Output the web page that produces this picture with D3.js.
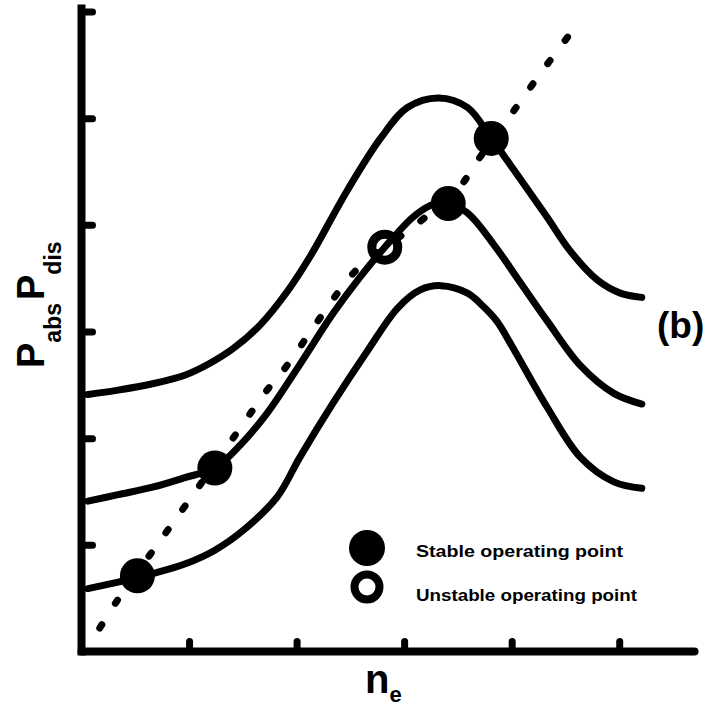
<!DOCTYPE html>
<html>
<head>
<meta charset="utf-8">
<script src="https://cdn.jsdelivr.net/npm/d3@7"></script>
<style>
  html, body { margin: 0; padding: 0; background: #fff; }
  svg { display: block; }
  text { font-family: "Liberation Sans", Arial, sans-serif; font-weight: bold; fill: #000; }
</style>
</head>
<body>
<svg id="chart" width="707" height="706"></svg>
<script>
// Absorbed power curves P_abs(n_e) for three input powers (upper, middle, lower)
const upperNe = [0.06,0.34,0.66,0.96,1.19,1.41,1.66,1.91,2.13,2.47,2.78,3.03,3.32,3.59,3.81,4.01,4.33,4.54,4.80,5.01,5.21];
const upperP  = [2.41,2.45,2.51,2.59,2.70,2.84,3.06,3.37,3.71,4.32,4.81,5.10,5.19,5.10,4.81,4.53,4.07,3.76,3.48,3.36,3.32];

const middleNe = [0.06,0.34,0.66,0.96,1.24,1.48,1.73,2.03,2.34,2.59,2.82,3.08,3.24,3.38,3.59,3.83,4.08,4.33,4.64,4.95,5.21];
const middleP  = [1.41,1.47,1.54,1.63,1.72,1.94,2.24,2.69,3.17,3.51,3.79,4.07,4.18,4.22,4.11,3.82,3.46,3.10,2.68,2.42,2.32];

const lowerNe = [0.06,0.34,0.66,0.96,1.24,1.52,1.82,2.03,2.34,2.66,2.94,3.15,3.34,3.59,3.71,3.86,4.01,4.33,4.64,4.95,5.21];
const lowerP  = [0.59,0.65,0.73,0.82,0.95,1.15,1.45,1.82,2.33,2.82,3.22,3.39,3.43,3.36,3.26,3.10,2.85,2.29,1.82,1.59,1.53];

// Dissipated power P_dis(n_e), dashed
const dischargeNe = [0.17,0.34,0.66,0.96,1.43,1.74,1.91,2.22,2.54,2.82,3.07,3.52,3.66,3.97,4.29,4.61];
const dischargeP  = [0.22,0.49,0.94,1.36,2.03,2.47,2.68,3.13,3.56,3.79,3.97,4.36,4.57,5.00,5.45,5.88];

// Operating points (intersections of P_abs and P_dis)
const stableNe = [0.52, 1.24, 3.41, 3.81];
const stableP  = [0.71, 1.72, 4.20, 4.81];
const unstableNe = [2.82];
const unstableP  = [3.79];

// Axis ticks (unlabelled) and legend entries
const neTicks = [1, 2, 3, 4, 5];
const pTicks  = [1, 2, 3, 4, 5, 6];
const legendLabels = ["Stable operating point", "Unstable operating point"];

const svg = d3.select("#chart");

const x = d3.scaleLinear().domain([0, 5.7]).range([81.5, 694.5]);
const y = d3.scaleLinear().domain([0, 6]).range([651.5, 11.5]);

const ink = "#000";

// Axes: heavy frame lines with inward-pointing ticks
svg.append("line")
  .attr("x1", x(0)).attr("x2", x(0))
  .attr("y1", y(0)).attr("y2", y(6) - 3)
  .attr("stroke", ink).attr("stroke-width", 8).attr("stroke-linecap", "square");
svg.append("line")
  .attr("x1", x(0)).attr("x2", x(5.7))
  .attr("y1", y(0)).attr("y2", y(0))
  .attr("stroke", ink).attr("stroke-width", 8).attr("stroke-linecap", "round");

const xAxis = svg.append("g")
  .attr("transform", `translate(0,${y(0)})`)
  .call(d3.axisBottom(x).tickValues(neTicks).tickSizeInner(-10).tickSizeOuter(0).tickFormat(""));
const yAxis = svg.append("g")
  .attr("transform", `translate(${x(0)},0)`)
  .call(d3.axisLeft(y).tickValues(pTicks).tickSizeInner(-11).tickSizeOuter(0).tickFormat(""));
[xAxis, yAxis].forEach(g => {
  g.select(".domain").remove();
  g.selectAll(".tick line")
    .attr("stroke", ink).attr("stroke-width", 7).attr("stroke-linecap", "round");
});

// Curves
const line = d3.line()
  .x(d => x(d[0])).y(d => y(d[1]))
  .curve(d3.curveCatmullRom.alpha(0.5));
const zip = (a, b) => a.map((v, i) => [v, b[i]]);

svg.append("path")
  .datum(zip(dischargeNe, dischargeP))
  .attr("d", line)
  .attr("fill", "none").attr("stroke", ink)
  .attr("stroke-width", 7).attr("stroke-linecap", "round")
  .attr("stroke-dasharray", "4 25");

[[upperNe, upperP], [middleNe, middleP], [lowerNe, lowerP]].forEach(([ne, p]) => {
  svg.append("path")
    .datum(zip(ne, p))
    .attr("d", line)
    .attr("fill", "none").attr("stroke", ink)
    .attr("stroke-width", 7).attr("stroke-linecap", "round").attr("stroke-linejoin", "round");
});

// Operating points
svg.append("g").selectAll("circle")
  .data(zip(stableNe, stableP))
  .join("circle")
  .attr("cx", d => x(d[0])).attr("cy", d => y(d[1]))
  .attr("r", 17.5).attr("fill", ink);
svg.append("g").selectAll("circle")
  .data(zip(unstableNe, unstableP))
  .join("circle")
  .attr("cx", d => x(d[0])).attr("cy", d => y(d[1]))
  .attr("r", 13).attr("fill", "none").attr("stroke", ink).attr("stroke-width", 9);

// Legend
const legend = svg.append("g");
legend.append("circle").attr("cx", 367).attr("cy", 548).attr("r", 18).attr("fill", ink);
legend.append("circle").attr("cx", 367).attr("cy", 587).attr("r", 12.5)
  .attr("fill", "none").attr("stroke", ink).attr("stroke-width", 8);
legend.append("text").attr("x", 416).attr("y", 557)
  .attr("font-size", 16).attr("textLength", 207).attr("lengthAdjust", "spacingAndGlyphs")
  .text(legendLabels[0]);
legend.append("text").attr("x", 416).attr("y", 601)
  .attr("font-size", 16).attr("textLength", 221).attr("lengthAdjust", "spacingAndGlyphs")
  .text(legendLabels[1]);

// Panel tag
svg.append("text").attr("x", 657).attr("y", 338).attr("font-size", 37).text("(b)");

// Axis titles
const xTitle = svg.append("text").attr("x", 365).attr("y", 693).attr("font-size", 40);
xTitle.append("tspan").text("n");
xTitle.append("tspan").attr("font-size", 22).attr("dy", 9).text("e");

const yTitle = svg.append("text")
  .attr("transform", "translate(44,368) rotate(-90)")
  .attr("font-size", 38);
yTitle.append("tspan").text("P");
yTitle.append("tspan").attr("font-size", 23).attr("dy", 17).text("abs");
yTitle.append("tspan").attr("dy", -17).attr("dx", 3).text("P");
yTitle.append("tspan").attr("font-size", 23).attr("dy", 17).text("dis");
</script>
</body>
</html>
